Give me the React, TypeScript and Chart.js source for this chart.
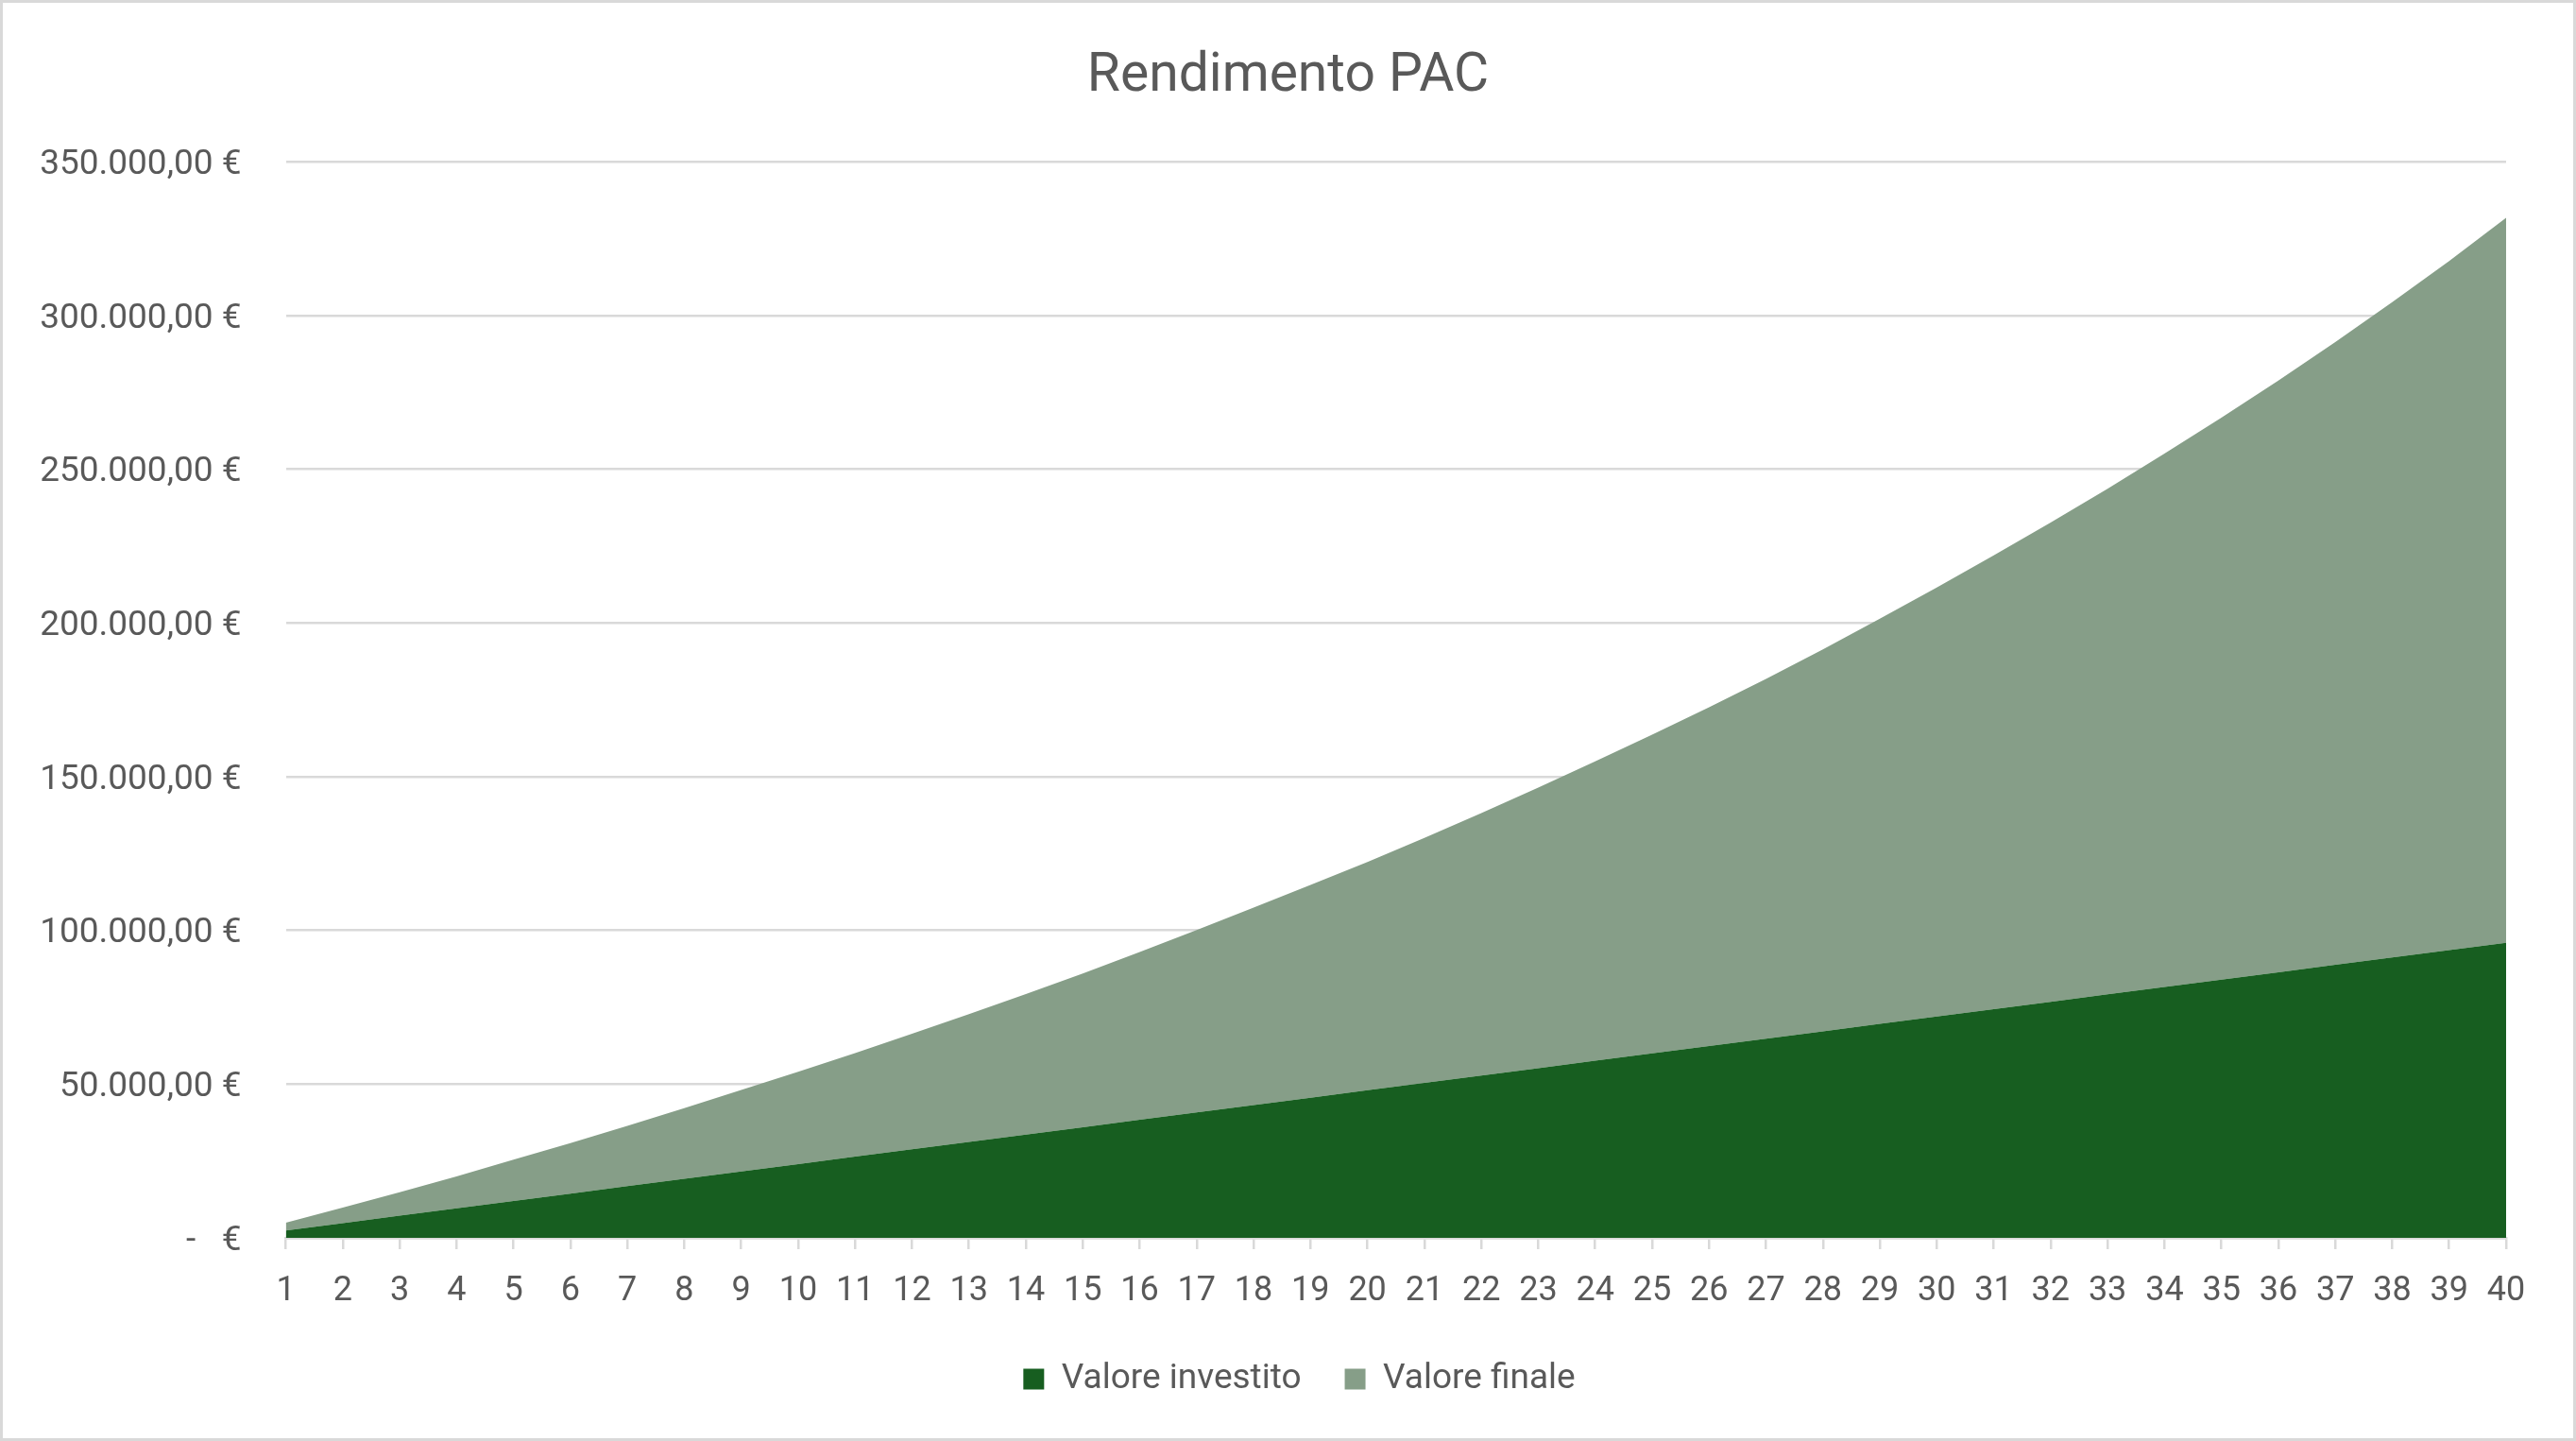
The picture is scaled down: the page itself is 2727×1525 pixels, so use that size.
import { useEffect, useRef } from "react";
import { Chart, registerables } from "chart.js";

Chart.register(...registerables);

// years of the plan (x axis)
const years = [
  "1", "2", "3", "4", "5", "6", "7", "8", "9", "10",
  "11", "12", "13", "14", "15", "16", "17", "18", "19", "20",
  "21", "22", "23", "24", "25", "26", "27", "28", "29", "30",
  "31", "32", "33", "34", "35", "36", "37", "38", "39", "40",
];

// amount paid in, cumulative
const valoreInvestito = [
  2400, 4800, 7200, 9600, 12000, 14400, 16800, 19200, 21600, 24000,
  26400, 28800, 31200, 33600, 36000, 38400, 40800, 43200, 45600, 48000,
  50400, 52800, 55200, 57600, 60000, 62400, 64800, 67200, 69600, 72000,
  74400, 76800, 79200, 81600, 84000, 86400, 88800, 91200, 93600, 96000,
];

// final value, stacked on top of the invested amount (as in the Excel stacked area)
const valoreFinale = [
  2500, 5000, 7600, 10400, 13400, 16400, 19600, 23000, 26500, 30000,
  33700, 37600, 41600, 45700, 50000, 54600, 59300, 64200, 69200, 74300,
  79700, 85400, 91300, 97400, 103700, 110200, 117000, 124200, 131800, 139600,
  147600, 155900, 164500, 173500, 182800, 192500, 202600, 213200, 224200, 235800,
];

const yMax = 350000;
const yStep = 50000;

const seriesNames = ["Valore investito", "Valore finale"];
const seriesColors = ["#175e20", "#869e88"];

function formatEuro(v: number): string {
  if (v === 0) return "-   €";
  const s = Math.round(v).toString().replace(/\B(?=(\d{3})+(?!\d))/g, ".");
  return s + ",00 €";
}

// title and legend are centred on the whole canvas in Excel, not on the padded box
const centreOnCanvas = {
  id: "centreOnCanvas",
  afterLayout(chart: any) {
    const t = chart.titleBlock;
    if (t) {
      t.left += 35.5;
      t.right += 35.5;
    }
    const lg = chart.legend;
    if (lg) {
      lg.left += 47.5;
      lg.right += 47.5;
    }
  },
};

export default function App() {
  const canvasRef = useRef<HTMLCanvasElement | null>(null);
  const chartRef = useRef<Chart | null>(null);

  useEffect(() => {
    document.body.style.margin = "0";
    if (!canvasRef.current) return;
    if (chartRef.current) chartRef.current.destroy();

    Chart.defaults.font.family = "Roboto, sans-serif";
    Chart.defaults.color = "#595959";

    chartRef.current = new Chart(canvasRef.current, {
      type: "line",
      data: {
        labels: years,
        datasets: [
          {
            label: seriesNames[0],
            data: valoreInvestito,
            backgroundColor: seriesColors[0],
            borderColor: seriesColors[0],
            borderWidth: 0,
            pointRadius: 0,
            fill: "origin",
            tension: 0,
          },
          {
            label: seriesNames[1],
            data: valoreFinale,
            backgroundColor: seriesColors[1],
            borderColor: seriesColors[1],
            borderWidth: 0,
            pointRadius: 0,
            fill: "-1",
            tension: 0,
          },
        ],
      },
      plugins: [centreOnCanvas],
      options: {
        responsive: true,
        maintainAspectRatio: false,
        animation: false,
        layout: {
          padding: { top: 0, left: 0, right: 71, bottom: 34 },
        },
        plugins: {
          title: {
            display: true,
            text: "Rendimento PAC",
            color: "#595959",
            font: { size: 57, weight: "normal" },
            padding: { top: 45, bottom: 55 },
          },
          legend: {
            position: "bottom",
            labels: {
              boxWidth: 22,
              boxHeight: 22,
              padding: 46,
              color: "#595959",
              font: { size: 37 },
            },
          },
          tooltip: { enabled: false },
        },
        scales: {
          x: {
            grid: {
              drawOnChartArea: false,
              drawTicks: true,
              tickLength: 12,
              color: "#d9d9d9",
              lineWidth: 2.5,
            },
            border: { display: true, color: "#d9d9d9", width: 2.5 },
            ticks: {
              autoSkip: false,
              maxRotation: 0,
              padding: 23.5,
              color: "#595959",
              font: { size: 36 },
            },
            afterFit: (scale: any) => {
              scale.height = 85;
            },
          },
          y: {
            stacked: true,
            min: 0,
            max: yMax,
            grid: {
              color: "#d9d9d9",
              lineWidth: 2.5,
              drawTicks: false,
            },
            border: { display: false },
            ticks: {
              stepSize: yStep,
              padding: 47,
              labelOffset: 3.5,
              color: "#595959",
              font: { size: 37 },
              callback: (v: any) => formatEuro(Number(v)),
            },
            afterFit: (scale: any) => {
              scale.width = 299.5;
            },
          },
        },
      },
    });

    return () => {
      if (chartRef.current) {
        chartRef.current.destroy();
        chartRef.current = null;
      }
    };
  }, []);

  return (
    <div
      style={{
        width: 2727,
        height: 1525,
        boxSizing: "border-box",
        border: "3px solid #d9d9d9",
        background: "#ffffff",
        position: "relative",
      }}
    >
      <canvas ref={canvasRef} />
    </div>
  );
}
